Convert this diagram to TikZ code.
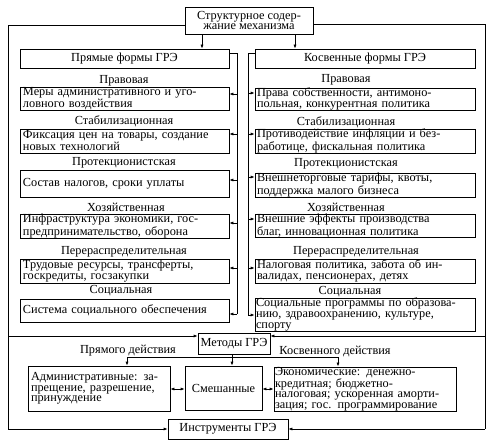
\documentclass[tikz,border=0pt]{standalone}
\usepackage{fontspec}
\setmainfont{Liberation Serif}
\usetikzlibrary{arrows.meta}
\begin{document}
\begin{tikzpicture}[x=1pt,y=-1pt,
  line width=0.7pt,
  every node/.style={font=\fontsize{12.3}{10.6}\selectfont},
  bx/.style={draw, inner xsep=3pt, inner ysep=0pt, align=left},
  cbx/.style={draw, inner sep=0pt, align=center},
  lbl/.style={inner sep=0pt},
  arr/.style={-{Latex[length=4pt,width=3pt]}},
  darr/.style={{Latex[length=4pt,width=3pt]}-{Latex[length=4pt,width=3pt]}}
]
\useasboundingbox (0,0) rectangle (495,443);

% top
\node[cbx, minimum width=128pt, minimum height=27pt] (top) at (249,20.5) {Структурное содер-\\жание механизма};
\node[cbx, minimum width=209pt, minimum height=19pt] (prm) at (124.5,58.5) {Прямые формы ГРЭ};
\node[cbx, minimum width=220pt, minimum height=19pt] (kos) at (365,58.5) {Косвенные формы ГРЭ};
\draw[arr] ([xshift=-47pt]top.south) -- ([xshift=-47pt]top.south |- prm.north);
\draw[arr] ([xshift=46pt]top.south) -- ([xshift=46pt]top.south |- kos.north);

% left column
\node[lbl] at (124,80.5) {Правовая};
\node[bx, text width=203pt, minimum height=22pt] (L1) at (124.5,99) {Меры административного и уго-\\ловного воздействия};
\node[lbl] at (124,121.5) {Стабилизационная};
\node[bx, text width=203pt, minimum height=24pt] (L2) at (124.5,141) {Фиксация цен на товары, создание\\новых технологий};
\node[lbl] at (124,163) {Протекционистская};
\node[bx, text width=203pt, minimum height=27pt] (L3) at (124.5,183.5) {Состав налогов, сроки уплаты};
\node[lbl] at (126,207) {Хозяйственная};
\node[bx, text width=203pt, minimum height=24pt] (L4) at (124.5,226) {Инфраструктура экономики, гос-\\предпринимательство, оборона};
\node[lbl] at (124,251.5) {Перераспределительная};
\node[bx, text width=203pt, minimum height=24pt] (L5) at (124.5,271) {Трудовые ресурсы, трансферты,\\госкредиты, госзакупки};
\node[lbl] at (121,291) {Социальная};
\node[bx, text width=203pt, minimum height=23pt] (L6) at (124.5,310.5) {Система социального обеспечения};

% right column
\node[lbl] at (346,79.5) {Правовая};
\node[bx, inner xsep=2pt, text width=216pt, minimum height=22pt] (R1) at (365,99) {Права собственности, антимоно-\\польная, конкурентная политика};
\node[lbl] at (346,122) {Стабилизационная};
\node[bx, inner xsep=2pt, text width=216pt, minimum height=24pt] (R2) at (365,141) {Противодействие инфляции и без-\\работице, фискальная политика};
\node[lbl] at (346,164) {Протекционистская};
\node[bx, inner xsep=2pt, text width=216pt, minimum height=24pt] (R3) at (365,185) {Внешнеторговые тарифы, квоты,\\поддержка малого бизнеса};
\node[lbl] at (346,207.5) {Хозяйственная};
\node[bx, inner xsep=2pt, text width=216pt, minimum height=22pt] (R4) at (365,226) {Внешние эффекты производства\\благ, инновационная политика};
\node[lbl] at (356,251.5) {Перераспределительная};
\node[bx, inner xsep=2pt, text width=216pt, minimum height=24pt] (R5) at (365,271) {Налоговая политика, забота об ин-\\валидах, пенсионерах, детях};
\node[lbl] at (350,291.5) {Социальная};
\node[bx, inner xsep=1pt, text width=218pt, minimum height=33pt] (R6) at (365,314.5) {Социальные программы по образова-\\нию, здравоохранению, культуре,\\спорту};

% middle buses
\coordinate (lbT) at (237,53);
\coordinate (lbB) at (237,314);
\draw (prm.east |- lbT) -- (lbT) -- (lbB);
\draw[arr] (lbT |- 0,94) -- (L1.east |- 0,94);
\draw[arr] (lbT |- 0,134) -- (L2.east |- 0,134);
\draw[arr] (lbT |- 0,180) -- (L3.east |- 0,180);
\draw[arr] (lbT |- 0,223) -- (L4.east |- 0,223);
\draw[arr] (lbT |- 0,268) -- (L5.east |- 0,268);
\draw[arr] (lbB) -- (L6.east |- lbB);

\coordinate (rbT) at (248,53);
\coordinate (rbB) at (248,315);
\draw (kos.west |- rbT) -- (rbT) -- (rbB);
\draw[arr] (rbT |- 0,93) -- (R1.west |- 0,93);
\draw[arr] (rbT |- 0,134) -- (R2.west |- 0,134);
\draw[arr] (rbT |- 0,177) -- (R3.west |- 0,177);
\draw[arr] (rbT |- 0,219) -- (R4.west |- 0,219);
\draw[arr] (rbT |- 0,268) -- (R5.west |- 0,268);
\draw[arr] (rbB) -- (R6.west |- rbB);

% bottom
\node[cbx, minimum width=72pt, minimum height=21pt] (met) at (234,343.5) {Методы ГРЭ};
\node[bx, text width=136pt, minimum height=45pt] (adm) at (99,388.5) {Административные: за-\\прещение, разрешение,\\принуждение};
\node[cbx, minimum width=77pt, minimum height=44pt] (sm) at (223.5,388) {Смешанные};
\node[bx, inner xsep=1pt, text width=180pt, minimum height=44pt] (ec) at (365,389) {Экономические: денежно-\\кредитная; бюджетно-\\налоговая; ускоренная аморти-\\зация; гос. программирование};
\node[cbx, minimum width=120pt, minimum height=20pt] (inst) at (228,429) {Инструменты ГРЭ};

\node[lbl] at (128,351) {Прямого действия};
\node[lbl] at (335,351) {Косвенного действия};

\coordinate (bl) at (127,357);
\coordinate (bm) at (232,357);
\coordinate (br) at (338,357);
\draw (met.south -| bm) -- (bm);
\draw (bl) -- (br);
\draw[arr] (bl) -- (adm.north -| bl);
\draw[arr] (bm) -- (sm.north -| bm);
\draw[arr] (br) -- (ec.north -| br);
\draw[darr] (adm.east |- 0,389) -- (sm.west |- 0,389);
\draw[darr] (sm.east |- 0,389) -- (ec.west |- 0,389);

% outer lines
\coordinate (LT) at (8,25);
\coordinate (LM) at (8,336);
\coordinate (LB) at (8,429);
\draw (top.west |- LT) -- (LT) -- (LB);
\draw[arr] (LM) -- (met.west |- LM);
\draw[arr] (LB) -- (inst.west |- LB);

\coordinate (RT) at (485,24);
\coordinate (RM) at (485,336);
\coordinate (RB) at (485,429);
\draw (top.east |- RT) -- (RT) -- (RB);
\draw[arr] (RM) -- (met.east |- RM);
\draw[arr] (RB) -- (inst.east |- RB);
\end{tikzpicture}
\end{document}
